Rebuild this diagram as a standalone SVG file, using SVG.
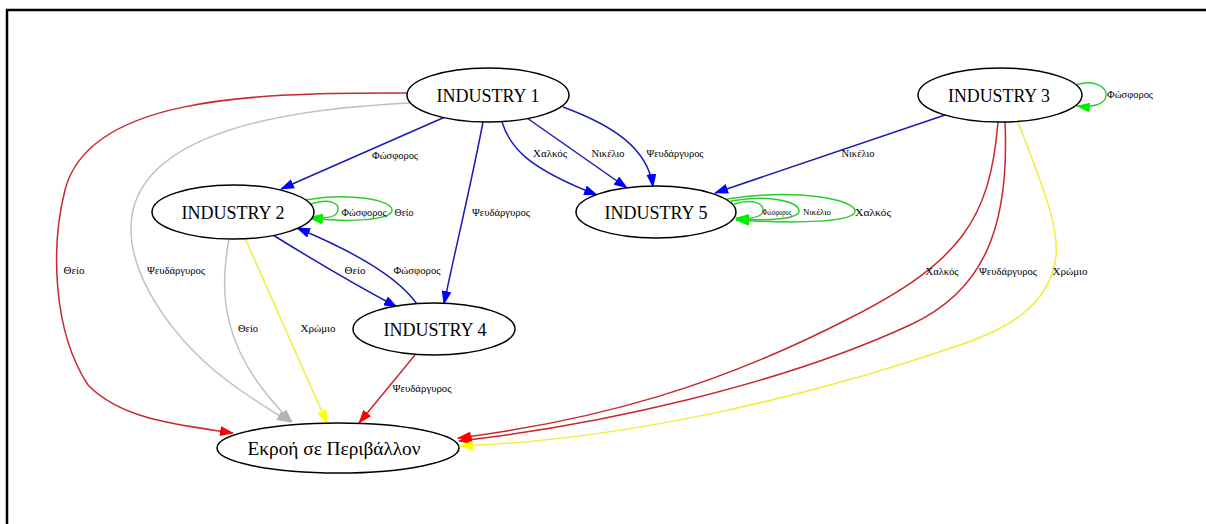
<svg xmlns="http://www.w3.org/2000/svg" width="1206" height="524" viewBox="0 0 1206 524">
<style>
.node ellipse{fill:#fff;stroke:#000;stroke-width:1.5}
.nl{font-family:"Liberation Serif","Times New Roman",serif;font-size:19px;fill:#000;text-anchor:middle}
.el{font-family:"Liberation Serif","Times New Roman",serif;font-size:11px;fill:#000;text-anchor:middle}
.sm{font-size:9px}
.e{fill:none;stroke-width:1.5}
.blue{stroke:#1a1ab4}
.red{stroke:#c8282d}
.gray{stroke:#c0c0c0}
.yel{stroke:#f2ec3c}
.grn{stroke:#2ccc2c}
</style>
<defs>
<marker id="mb" markerUnits="userSpaceOnUse" markerWidth="14" markerHeight="10" refX="13" refY="5" orient="auto"><path d="M0,0 L14,5 L0,10 z" fill="#0000ff"/></marker>
<marker id="mr" markerUnits="userSpaceOnUse" markerWidth="14" markerHeight="10" refX="13" refY="5" orient="auto"><path d="M0,0 L14,5 L0,10 z" fill="#ff0000"/></marker>
<marker id="mg" markerUnits="userSpaceOnUse" markerWidth="14" markerHeight="10" refX="13" refY="5" orient="auto"><path d="M0,0 L14,5 L0,10 z" fill="#b4b4b4"/></marker>
<marker id="my" markerUnits="userSpaceOnUse" markerWidth="14" markerHeight="10" refX="13" refY="5" orient="auto"><path d="M0,0 L14,5 L0,10 z" fill="#ffff00"/></marker>
<marker id="mgr" markerUnits="userSpaceOnUse" markerWidth="14" markerHeight="10" refX="13" refY="5" orient="auto"><path d="M0,0 L14,5 L0,10 z" fill="#00ee00"/></marker>
</defs>
<rect width="1206" height="524" fill="#fff"/>
<path d="M7,524 V10 H1206" fill="none" stroke="#000" stroke-width="2.5"/>

<g id="connectors">
<!-- I1 -> Ekroi red Theio -->
<path class="e red" marker-end="url(#mr)" d="M407,93 C240,92 88,100 65,190 C51,245 52,330 88,385 C122,420 180,425 233,433"/>
<text class="el" x="74" y="274" textLength="21" lengthAdjust="spacingAndGlyphs">Θείο</text>
<!-- I1 -> Ekroi gray -->
<path class="e gray" marker-end="url(#mg)" d="M410,103 C260,110 150,140 133,210 C120,270 175,345 240,390 C262,405 276,414 290,422"/>
<text class="el" x="176" y="274" textLength="58" lengthAdjust="spacingAndGlyphs">Ψευδάργυρος</text>
<!-- I1 -> I2 -->
<path class="e blue" marker-end="url(#mb)" d="M445,117 L281,189"/>
<text class="el" x="395" y="159" textLength="46" lengthAdjust="spacingAndGlyphs">Φώσφορος</text>
<!-- I1 -> I4 -->
<path class="e blue" marker-end="url(#mb)" d="M483,122 C470,190 455,250 444,304"/>
<text class="el" x="501" y="216" textLength="58" lengthAdjust="spacingAndGlyphs">Ψευδάργυρος</text>
<!-- I1 -> I5 x3 -->
<path class="e blue" marker-end="url(#mb)" d="M502,122 C510,148 528,168 597,195"/>
<text class="el" x="550" y="157" textLength="34" lengthAdjust="spacingAndGlyphs">Χαλκός</text>
<path class="e blue" marker-end="url(#mb)" d="M527,118 L627,188"/>
<text class="el" x="608" y="157" textLength="33" lengthAdjust="spacingAndGlyphs">Νικέλιο</text>
<path class="e blue" marker-end="url(#mb)" d="M563,107 C612,125 648,148 653,187"/>
<text class="el" x="675" y="157" textLength="57" lengthAdjust="spacingAndGlyphs">Ψευδάργυρος</text>
<!-- I3 -> I5 -->
<path class="e blue" marker-end="url(#mb)" d="M945,115 L715,193"/>
<text class="el" x="858" y="157" textLength="33" lengthAdjust="spacingAndGlyphs">Νικέλιο</text>
<!-- I3 self loop -->
<path class="e grn" marker-end="url(#mgr)" d="M1074,86 C1094,78 1107,87 1106,96 C1105,104 1093,108 1077,106"/>
<text class="el" x="1130" y="98" textLength="46" lengthAdjust="spacingAndGlyphs">Φώσφορος</text>
<!-- I3 -> Ekroi -->
<path class="e red" marker-end="url(#mr)" d="M998,122 C990,220 960,262 850,318 C720,385 600,420 458,438"/>
<text class="el" x="942" y="275" textLength="33" lengthAdjust="spacingAndGlyphs">Χαλκός</text>
<path class="e red" marker-end="url(#mr)" d="M1005,122 C1010,230 982,292 910,325 C780,385 600,425 459,441"/>
<text class="el" x="1008" y="275" textLength="58" lengthAdjust="spacingAndGlyphs">Ψευδάργυρος</text>
<path class="e yel" marker-end="url(#my)" d="M1018,122 C1040,180 1062,230 1055,262 C1047,305 1010,328 960,345 C800,400 620,440 460,446"/>
<text class="el" x="1070" y="275" textLength="35" lengthAdjust="spacingAndGlyphs">Χρώμιο</text>
<!-- I2 self loops -->
<path class="e grn" marker-end="url(#mgr)" d="M311,204 C330,198 339,203 338,210 C337,217 326,219 310,217"/>
<path class="e grn" marker-end="url(#mgr)" d="M305,200 C350,192 392,200 392,210 C392,220 350,223 310,218"/>
<text class="el" x="364" y="216" textLength="45" lengthAdjust="spacingAndGlyphs">Φώσφορος</text>
<text class="el" x="404" y="216" textLength="19" lengthAdjust="spacingAndGlyphs">Θείο</text>
<!-- I5 self loops -->
<path class="e grn" marker-end="url(#mgr)" d="M734,204 C754,198 764,204 763,211 C762,217 752,219 736,218"/>
<path class="e grn" marker-end="url(#mgr)" d="M731,201 C770,194 799,202 799,211 C799,219 770,221 736,219"/>
<path class="e grn" marker-end="url(#mgr)" d="M727,199 C800,188 855,200 855,211 C855,222 800,224 736,220"/>
<text class="el sm" x="777" y="215" textLength="29" lengthAdjust="spacingAndGlyphs">Φώσφορος</text>
<text class="el sm" x="817" y="215" textLength="28" lengthAdjust="spacingAndGlyphs">Νικέλιο</text>
<text class="el" x="873" y="216" textLength="36" lengthAdjust="spacingAndGlyphs">Χαλκός</text>
<!-- I2 <-> I4 -->
<path class="e blue" marker-end="url(#mb)" d="M273,235 C310,258 350,282 397,307"/>
<text class="el" x="355" y="274" textLength="21" lengthAdjust="spacingAndGlyphs">Θείο</text>
<path class="e blue" marker-end="url(#mb)" d="M417,304 C400,280 360,254 297,228"/>
<text class="el" x="417" y="274" textLength="47" lengthAdjust="spacingAndGlyphs">Φώσφορος</text>
<!-- I2 -> Ekroi -->
<path class="e gray" marker-end="url(#mg)" d="M229,239 C220,290 218,350 292,422"/>
<text class="el" x="248" y="332" textLength="20" lengthAdjust="spacingAndGlyphs">Θείο</text>
<path class="e yel" marker-end="url(#my)" d="M245,238 L327,423"/>
<text class="el" x="318" y="332" textLength="35" lengthAdjust="spacingAndGlyphs">Χρώμιο</text>
<!-- I4 -> Ekroi -->
<path class="e red" marker-end="url(#mr)" d="M415,355 L359,423"/>
<text class="el" x="422" y="392" textLength="59" lengthAdjust="spacingAndGlyphs">Ψευδάργυρος</text>
</g>

<g id="industry1" class="node"><ellipse cx="488" cy="95" rx="81" ry="27"/><text class="nl" x="488" y="101.5" textLength="103" lengthAdjust="spacingAndGlyphs">INDUSTRY 1</text></g>
<g id="industry2" class="node"><ellipse cx="233" cy="212" rx="81" ry="27"/><text class="nl" x="233" y="218.5" textLength="103" lengthAdjust="spacingAndGlyphs">INDUSTRY 2</text></g>
<g id="industry3" class="node"><ellipse cx="1000" cy="95" rx="82" ry="27"/><text class="nl" x="999" y="101.5" textLength="102" lengthAdjust="spacingAndGlyphs">INDUSTRY 3</text></g>
<g id="industry4" class="node"><ellipse cx="434" cy="329" rx="81" ry="26"/><text class="nl" x="435" y="335.5" textLength="103" lengthAdjust="spacingAndGlyphs">INDUSTRY 4</text></g>
<g id="industry5" class="node"><ellipse cx="656" cy="212" rx="80" ry="26"/><text class="nl" x="656" y="218.5" textLength="103" lengthAdjust="spacingAndGlyphs">INDUSTRY 5</text></g>
<g id="ekroi" class="node"><ellipse cx="338" cy="448" rx="121" ry="25"/><text class="nl" x="334" y="454.5" textLength="173" lengthAdjust="spacingAndGlyphs">Εκροή σε Περιβάλλον</text></g>
</svg>
